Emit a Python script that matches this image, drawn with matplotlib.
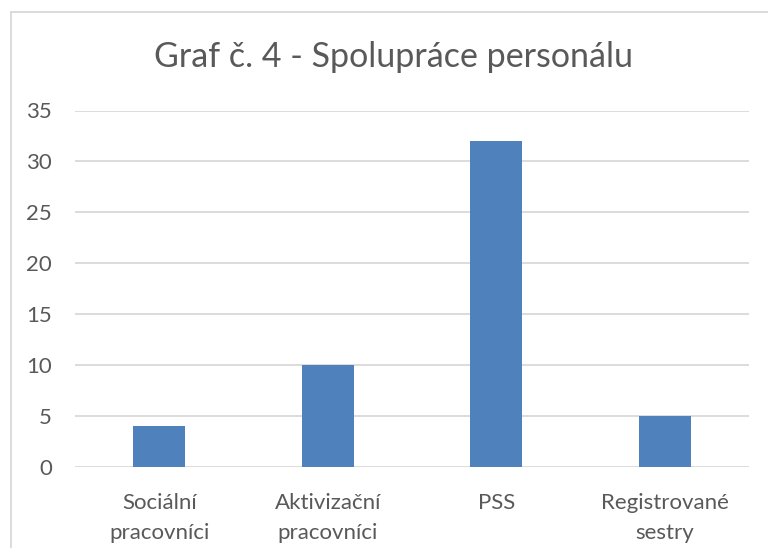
import matplotlib
matplotlib.use("Agg")
import matplotlib.pyplot as plt
from matplotlib.lines import Line2D

categories = ["Sociální\npracovníci", "Aktivizační\npracovníci", "PSS", "Registrované\nsestry"]
values = [4, 10, 32, 5]
yticks = [0, 5, 10, 15, 20, 25, 30, 35]
title = "Graf č. 4 - Spolupráce personálu"

plt.rcParams['font.family'] = ['Lato', 'DejaVu Sans']
W, H = 768, 548
fig = plt.figure(figsize=(W/100, H/100), dpi=100)
ax = fig.add_axes([75/W, 1-466.7/H, (749-75)/W, (466.7-110.5)/H])

x = list(range(len(categories)))
ax.bar(x, values, width=0.31, color="#4F81BD", zorder=3)
ax.set_xlim(-0.5, len(categories)-0.5)
ax.set_ylim(0, 35)
ax.set_yticks(yticks)
ax.set_xticks(x)
ax.set_xticklabels(categories, fontsize=16, color="#595959", linespacing=1.6)
ax.tick_params(axis='y', labelsize=16, labelcolor="#595959", length=0, pad=16.5)
ax.tick_params(axis='x', length=0, pad=19)
ax.grid(axis='y', color="#D9D9D9", linewidth=1.3, zorder=0)
for s in ax.spines.values():
    s.set_visible(False)

fig.text(394/W, 1-67/H, title, ha='center', va='baseline', fontsize=24.5, color="#595959")

fig.add_artist(Line2D([11/W, 11/W], [0, 1-12/H], transform=fig.transFigure, color="#D9D9D9", lw=1.3))
fig.add_artist(Line2D([11/W, 1], [1-12/H, 1-12/H], transform=fig.transFigure, color="#D9D9D9", lw=1.3))

fig.savefig("out.png", dpi=100)
